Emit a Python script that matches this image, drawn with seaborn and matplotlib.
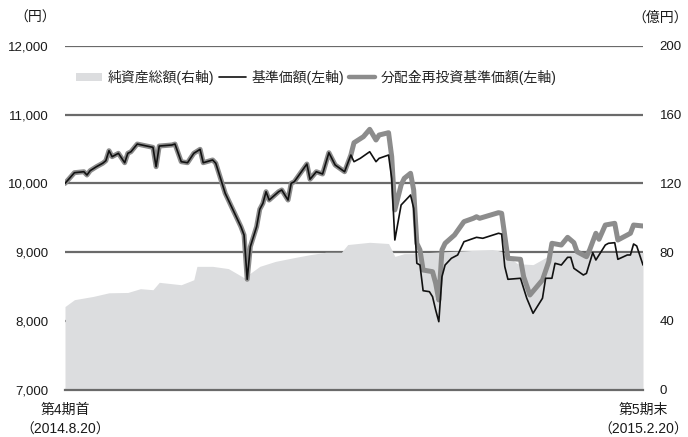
import matplotlib
matplotlib.use("Agg")
import matplotlib.pyplot as plt
import matplotlib.ticker as mticker
from matplotlib.patches import Patch
from matplotlib.lines import Line2D
import seaborn as sns
import pandas as pd

START = "2014-08-20"
END = "2015-02-20"

# 基準価額 (円): days from start / value
nav_day = [0, 3, 6, 7, 8, 10, 12, 13, 14, 15, 17, 19, 20, 21, 23, 26, 28, 29, 30, 34,
           35, 37, 39, 41, 43, 44, 47, 48, 51, 56, 57, 58, 59, 61, 62, 63, 64, 65, 68, 69,
           71, 72, 73, 77, 78, 80, 82, 84, 86, 89, 91, 92, 94, 97, 99, 100, 103, 104, 105, 107,
           110, 111, 112, 113, 114, 116, 117, 118, 119, 120, 121, 123, 125, 127, 131, 133, 138, 139, 140, 141,
           145, 147, 149, 152, 153, 155, 156, 158, 160, 161, 162, 165, 166, 168, 169, 172, 173, 175, 176, 179,
           180, 181, 182, 184]
nav_val = [10000, 10156, 10170, 10122, 10185, 10243, 10293, 10330, 10476, 10389, 10438, 10301, 10438, 10461, 10573, 10544, 10525, 10243, 10544, 10559,
           10573, 10316, 10301, 10438, 10496, 10301, 10341, 10293, 9856, 9370, 9249, 8604, 9079, 9370, 9623, 9710, 9879, 9758, 9879, 9904,
           9758, 10001, 10025, 10282, 10060, 10170, 10137, 10447, 10268, 10170, 10413, 10316, 10365, 10461, 10316, 10365, 10413, 10074, 9176, 9686,
           9831, 9638, 8837, 8812, 8438, 8424, 8351, 8157, 7987, 8642, 8812, 8910, 8958, 9151, 9215, 9201, 9274, 9263, 8788, 8604,
           8619, 8328, 8109, 8328, 8619, 8619, 8837, 8812, 8924, 8924, 8764, 8667, 8690, 8991, 8885, 9103, 9128, 9137, 8895, 8958,
           8958, 9118, 9089, 8812]

# 分配金再投資基準価額 (円)
reinv_day = [0, 3, 6, 7, 8, 10, 12, 13, 14, 15, 17, 19, 20, 21, 23, 26, 28, 29, 30, 34,
             35, 37, 39, 41, 43, 44, 47, 48, 51, 56, 57, 58, 59, 61, 62, 63, 64, 65, 68, 69,
             71, 72, 73, 77, 78, 80, 82, 84, 86, 89, 91, 92, 95, 97, 99, 100, 103, 104, 105, 107,
             108, 110, 111, 112, 113, 114, 117, 118, 119, 120, 121, 124, 127, 130, 131, 132, 138, 139, 141, 145,
             146, 148, 152, 154, 155, 158, 160, 162, 163, 166, 167, 169, 170, 172, 175, 176, 179, 180, 181, 184]
reinv_val = [10000, 10156, 10170, 10122, 10185, 10243, 10293, 10330, 10476, 10389, 10438, 10301, 10438, 10461, 10573, 10544, 10525, 10243, 10544, 10559,
             10573, 10316, 10301, 10438, 10496, 10301, 10341, 10293, 9856, 9370, 9249, 8604, 9079, 9370, 9623, 9710, 9879, 9758, 9879, 9904,
             9758, 10001, 10025, 10282, 10060, 10170, 10137, 10447, 10268, 10170, 10413, 10592, 10680, 10787, 10632, 10704, 10738, 10389, 9614, 9977,
             10074, 10147, 9904, 9128, 9031, 8739, 8715, 8546, 8303, 9031, 9128, 9249, 9443, 9492, 9515, 9492, 9574, 9565, 8910, 8895,
             8642, 8376, 8594, 8860, 9128, 9103, 9215, 9137, 9006, 8933, 9031, 9274, 9186, 9394, 9419, 9176, 9249, 9274, 9394, 9380]

# 純資産総額 (億円)
asset_day = [0, 3, 9, 14, 20, 24, 28, 30, 37, 41, 42, 47, 52, 57, 62, 67, 73, 78, 83, 88,
             90, 97, 103, 105, 108, 111, 115, 136, 139, 144, 149, 153, 155, 184]
asset_val = [48.3, 52.3, 54.2, 56.3, 56.5, 58.7, 58.1, 62.4, 61.0, 63.9, 71.7, 71.7, 70.4, 65.1, 71.7, 74.6, 76.8, 78.5, 79.9, 79.9,
             84.4, 85.7, 85.0, 77.5, 79.1, 79.1, 79.7, 81.5, 80.5, 73.3, 72.7, 76.8, 79.7, 79.7]

yen_ticks = [7000, 8000, 9000, 10000, 11000, 12000]
oku_ticks = [0, 40, 80, 120, 160, 200]
period_labels = ["第4期首\n（2014.8.20）", "第5期末\n（2015.2.20）"]

legend_labels = ["純資産総額(右軸)", "基準価額(左軸)", "分配金再投資基準価額(左軸)"]

sns.set_theme(style="white")
plt.rcParams["font.family"] = ["Liberation Sans", "Noto Sans CJK JP", "DejaVu Sans"]

start = pd.Timestamp(START)
def to_dates(days):
    return start + pd.to_timedelta(days, unit="D")

nav = pd.DataFrame({"date": to_dates(nav_day), "value": nav_val})
reinv = pd.DataFrame({"date": to_dates(reinv_day), "value": reinv_val})
asset = pd.DataFrame({"date": to_dates(asset_day), "value": asset_val})

GRID = "#6a6a6a"
AREA = "#dcdddf"
REINV = "#8c8c8c"
TEXT = "#1a1a1a"

fig = plt.figure(figsize=(6.88, 4.37), dpi=100)
ax = fig.add_axes([65 / 688, 1 - 389.5 / 437, (643 - 65) / 688, (389.5 - 46) / 437])
ax2 = ax.twinx()
ax.set_zorder(ax2.get_zorder() + 1)
ax.patch.set_visible(False)

# net assets area on the right axis, with the shared gridlines beneath it
ax2.fill_between(asset["date"], 0, asset["value"], color=AREA, linewidth=0, zorder=2)
ax2.set_ylim(0, 200)
ax2.set_yticks(oku_ticks)
ax2.set_axisbelow(True)
ax2.grid(axis="y", color=GRID, linewidth=1.6, zorder=0)
ax2.grid(axis="x", visible=False)
ax2.tick_params(axis="y", length=0, pad=12, labelsize=9.5, colors=TEXT)
for s in ax2.spines.values():
    s.set_visible(False)

sns.lineplot(data=reinv, x="date", y="value", ax=ax, color=REINV, linewidth=3.6,
             estimator=None, sort=False, solid_joinstyle="round", solid_capstyle="round")
sns.lineplot(data=nav, x="date", y="value", ax=ax, color="#111111", linewidth=1.2,
             estimator=None, sort=False)

ax.set_xlim(pd.Timestamp(START), pd.Timestamp(END))
ax.set_ylim(7000, 12000)
ax.set_yticks(yen_ticks)
ax.yaxis.set_major_formatter(mticker.FuncFormatter(lambda v, p: f"{int(v):,}"))
ax.tick_params(axis="y", length=0, pad=12, labelsize=9.5, colors=TEXT)
ax.set_xticks([pd.Timestamp(START), pd.Timestamp(END)])
ax.set_xticklabels(period_labels, fontsize=10, linespacing=1.5)
ax.tick_params(axis="x", direction="in", length=4, width=1.6, pad=10, colors=GRID, labelcolor=TEXT)
ax.set_xlabel("")
ax.set_ylabel("")
ax.grid(False)
for side in ["left", "right", "top"]:
    ax.spines[side].set_visible(False)
ax.spines["bottom"].set_color(GRID)
ax.spines["bottom"].set_linewidth(1.6)

fig.text(14 / 688, 1 - 18 / 437, "（円）", fontsize=10, color=TEXT, va="center", ha="left")
fig.text(688 / 688, 1 - 18 / 437, "（億円）", fontsize=10, color=TEXT, va="center", ha="right")

handles = [
    Patch(facecolor=AREA, edgecolor="none"),
    Line2D([], [], color="#111111", linewidth=1.2),
    Line2D([], [], color=REINV, linewidth=3.2),
]
fig.legend(handles, legend_labels, loc="center left", bbox_to_anchor=(76 / 688, 1 - 77 / 437),
           ncol=3, frameon=False, fontsize=10, handlelength=1.9, handleheight=0.5,
           handletextpad=0.4, columnspacing=0.35, borderpad=0, borderaxespad=0)

fig.savefig("out.png", dpi=100)
